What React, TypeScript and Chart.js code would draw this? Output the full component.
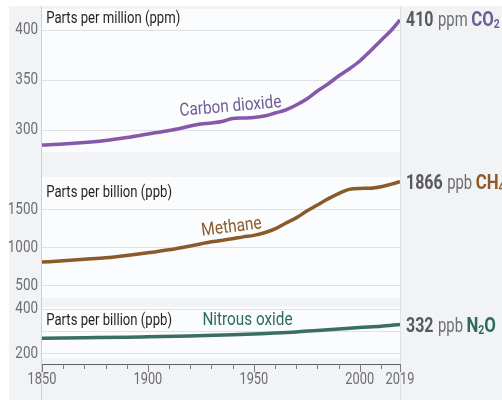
import React, { useEffect, useRef } from 'react';
import { Chart, registerables } from 'chart.js';
Chart.register(...registerables);

// ---------- data ----------
const co2Years = [1850, 1860, 1870, 1880, 1890, 1900, 1910, 1915, 1920, 1925, 1930, 1935, 1940, 1945, 1950, 1955, 1960, 1965, 1970, 1975, 1980, 1985, 1990, 1995, 2000, 2005, 2010, 2015, 2019];
const co2Values = [285, 286, 287.5, 289.5, 292.5, 296, 299.5, 301.5, 304, 306, 307, 308.5, 311.5, 312, 312.5, 314, 317, 320, 325, 331, 339, 346, 354, 361, 369, 379, 389.5, 400, 410];

const ch4Years = [1850, 1860, 1870, 1880, 1890, 1900, 1910, 1920, 1930, 1940, 1945, 1950, 1955, 1960, 1965, 1970, 1975, 1980, 1985, 1990, 1995, 2000, 2005, 2010, 2015, 2019];
const ch4Values = [808, 825, 845, 865, 895, 930, 970, 1020, 1075, 1115, 1140, 1160, 1195, 1245, 1320, 1390, 1480, 1560, 1640, 1710, 1765, 1778, 1780, 1800, 1835, 1866];

const n2oYears = [1850, 1870, 1890, 1900, 1920, 1940, 1950, 1960, 1970, 1980, 1990, 2000, 2010, 2019];
const n2oValues = [270, 272, 274, 276, 280, 285, 289, 293, 298, 305, 311, 318, 324, 332];

const co2Ticks = [300, 350, 400];
const ch4Ticks = [500, 1000, 1500];
const n2oTicks = [200, 300, 400];
const n2oLabeledTicks = [200, 400];
const xTicks = [1850, 1860, 1870, 1880, 1890, 1900, 1910, 1920, 1930, 1940, 1950, 1960, 1970, 1980, 1990, 2000, 2010, 2019];
const xLabels = [1850, 1900, 1950, 2000, 2019];

const co2Range = [278, 421];
const ch4Range = [336, 1928];
const n2oRange = [180, 411];

const co2Title = 'Parts per million (ppm)';
const ch4Title = 'Parts per billion (ppb)';
const n2oTitle = 'Parts per billion (ppb)';

// ---------- style ----------
const FONT = 'Roboto, "Liberation Sans", sans-serif';
const BG = '#f2f3f5';
const PANEL = '#fbfcfd';
const GRID = '#e0e1e3';
const TICK_LABEL = '#6d6e71';
const TITLE = '#231f20';
const NUM = '#58595b';
const CO2_LINE = '#8658aa';
const CO2_TEXT = '#6e5c94';
const CH4_LINE = '#8b5a2b';
const CH4_TEXT = '#8b5a2b';
const N2O_LINE = '#3b6e62';
const N2O_TEXT = '#2c6a5e';

// draw horizontally condensed text (via maxWidth squeeze), return advanced width
function condensed(ctx: CanvasRenderingContext2D, text: string, x: number, y: number, sx: number) {
  const w = ctx.measureText(text).width * sx;
  ctx.fillText(text, x, y, w);
  return w;
}

const labelSets: Record<string, number[]> = {
  yco2: co2Ticks,
  ych4: ch4Ticks,
  yn2o: n2oLabeledTicks,
};

const decor = {
  id: 'decor',
  beforeDraw(chart: any) {
    const { ctx, chartArea, width, height, scales } = chart;
    ctx.save();
    ctx.fillStyle = '#ffffff';
    ctx.fillRect(0, 0, width, height);
    ctx.fillStyle = BG;
    ctx.fillRect(9, 6, width - 9, height - 6);
    ctx.fillStyle = PANEL;
    for (const id of ['yco2', 'ych4', 'yn2o']) {
      const s = scales[id];
      ctx.fillRect(chartArea.left, s.top, chartArea.right - chartArea.left, s.bottom - s.top);
    }
    ctx.restore();
  },
  beforeDatasetsDraw(chart: any) {
    const { ctx, chartArea, height } = chart;
    ctx.save();
    ctx.lineWidth = 1;
    ctx.strokeStyle = '#cfd0d2';
    ctx.beginPath();
    ctx.moveTo(chartArea.left - 0.5, 6);
    ctx.lineTo(chartArea.left - 0.5, height);
    ctx.stroke();
    ctx.strokeStyle = '#dfe0e2';
    ctx.beginPath();
    ctx.moveTo(chartArea.right + 0.5, 6);
    ctx.lineTo(chartArea.right + 0.5, height);
    ctx.stroke();
    ctx.restore();
  },
  afterDraw(chart: any) {
    const { ctx, scales } = chart;
    const x = scales.x;
    ctx.save();
    // x tick marks
    ctx.strokeStyle = '#7a7a7a';
    ctx.lineWidth = 1;
    for (const t of x.ticks) {
      const px = Math.round(x.getPixelForValue(t.value)) + 0.5;
      const len = xLabels.includes(t.value) ? 8 : 5;
      ctx.beginPath();
      ctx.moveTo(px, x.top);
      ctx.lineTo(px, x.top + len);
      ctx.stroke();
    }
    // x tick labels
    ctx.font = `16px ${FONT}`;
    ctx.fillStyle = TICK_LABEL;
    ctx.textBaseline = 'middle';
    ctx.textAlign = 'center';
    for (const t of x.ticks) {
      if (!xLabels.includes(t.value)) continue;
      condensed(ctx, String(t.value), x.getPixelForValue(t.value), x.top + 16, 0.8);
    }
    // y tick labels
    ctx.textAlign = 'right';
    for (const id of Object.keys(labelSets)) {
      const s = scales[id];
      for (const t of s.ticks) {
        if (!labelSets[id].includes(t.value)) continue;
        condensed(ctx, String(t.value), s.right - 4, s.getPixelForValue(t.value), 0.84);
      }
    }

    // panel titles
    ctx.font = `16px ${FONT}`;
    ctx.fillStyle = TITLE;
    ctx.textAlign = 'left';
    ctx.textBaseline = 'middle';
    const tx = x.getPixelForValue(1852);
    condensed(ctx, co2Title, tx, scales.yco2.getPixelForValue(411.5), 0.82);
    condensed(ctx, ch4Title, tx, scales.ych4.getPixelForValue(1717), 0.82);
    condensed(ctx, n2oTitle, tx, scales.yn2o.getPixelForValue(349), 0.82);

    // inline series names
    const inline = (text: string, color: string, year: number, py: number, angle: number, sx: number) => {
      ctx.save();
      ctx.translate(x.getPixelForValue(year), py);
      ctx.rotate((angle * Math.PI) / 180);
      ctx.font = `18px ${FONT}`;
      ctx.fillStyle = color;
      ctx.textAlign = 'center';
      ctx.textBaseline = 'middle';
      condensed(ctx, text, 0, 0, sx);
      ctx.restore();
    };
    inline('Carbon dioxide', CO2_TEXT, 1939, scales.yco2.getPixelForValue(323), -5, 0.85);
    inline('Methane', CH4_TEXT, 1939.5, scales.ych4.getPixelForValue(1263), -7, 0.86);
    inline('Nitrous oxide', N2O_TEXT, 1947, scales.yn2o.getPixelForValue(349), 0, 0.85);

    // end labels
    const endLabel = (num: string, unit: string, f1: string, sub: string, f2: string, color: string, py: number) => {
      let cx = x.right + 6;
      const base = py + 7;
      ctx.textAlign = 'left';
      ctx.textBaseline = 'alphabetic';
      ctx.font = `bold 20px ${FONT}`;
      ctx.fillStyle = NUM;
      cx += condensed(ctx, num, cx, base, 0.8);
      cx += 4.5;
      ctx.font = `20px ${FONT}`;
      ctx.fillStyle = TICK_LABEL;
      cx += condensed(ctx, unit, cx, base, 0.74);
      cx += 3.5;
      ctx.font = `bold 20px ${FONT}`;
      ctx.fillStyle = color;
      cx += condensed(ctx, f1, cx, base, 0.84);
      ctx.font = `bold 13px ${FONT}`;
      cx += condensed(ctx, sub, cx, base + 2, 0.8);
      if (f2) {
        ctx.font = `bold 20px ${FONT}`;
        condensed(ctx, f2, cx, base, 0.84);
      }
    };
    endLabel(String(co2Values[co2Values.length - 1]), 'ppm', 'CO', '2', '', CO2_TEXT,
      scales.yco2.getPixelForValue(co2Values[co2Values.length - 1]) - 1);
    endLabel(String(ch4Values[ch4Values.length - 1]), 'ppb', 'CH', '4', '', CH4_TEXT,
      scales.ych4.getPixelForValue(ch4Values[ch4Values.length - 1]));
    endLabel(String(n2oValues[n2oValues.length - 1]), 'ppb', 'N', '2', 'O', N2O_TEXT,
      scales.yn2o.getPixelForValue(n2oValues[n2oValues.length - 1]) + 1);
    ctx.restore();
  },
};

const yBase = (ticks: number[], range: number[], stackWeight: number, weight: number) => ({
  type: 'linear' as const,
  position: 'left' as const,
  stack: 'gases',
  stackWeight,
  weight,
  min: range[0],
  max: range[1],
  grid: { color: GRID, lineWidth: 1, drawTicks: false },
  border: { display: false },
  ticks: { display: false, autoSkip: false },
  afterBuildTicks: (s: any) => {
    s.ticks = ticks.map((value) => ({ value }));
  },
  afterFit: (s: any) => {
    s.width = 42;
  },
});

const gap = (stackWeight: number, weight: number) => ({
  type: 'linear' as const,
  position: 'left' as const,
  stack: 'gases',
  stackWeight,
  weight,
  display: false,
  min: 0,
  max: 1,
});

export default function App() {
  const ref = useRef<HTMLCanvasElement>(null);
  useEffect(() => {
    const canvas = ref.current!;
    const chart = new Chart(canvas, {
      type: 'line',
      data: {
        datasets: [
          {
            label: 'Carbon dioxide',
            data: co2Years.map((yr, i) => ({ x: yr, y: co2Values[i] })),
            yAxisID: 'yco2',
            borderColor: CO2_LINE,
            borderWidth: 3.5,
            pointRadius: 0,
            cubicInterpolationMode: 'monotone',
          },
          {
            label: 'Methane',
            data: ch4Years.map((yr, i) => ({ x: yr, y: ch4Values[i] })),
            yAxisID: 'ych4',
            borderColor: CH4_LINE,
            borderWidth: 3.5,
            pointRadius: 0,
            cubicInterpolationMode: 'monotone',
          },
          {
            label: 'Nitrous oxide',
            data: n2oYears.map((yr, i) => ({ x: yr, y: n2oValues[i] })),
            yAxisID: 'yn2o',
            borderColor: N2O_LINE,
            borderWidth: 3.5,
            pointRadius: 0,
            cubicInterpolationMode: 'monotone',
          },
        ],
      },
      options: {
        animation: false,
        responsive: false,
        layout: { padding: { left: 0, right: 102, top: 9, bottom: 0 } },
        plugins: { legend: { display: false }, tooltip: { enabled: false } },
        scales: {
          x: {
            type: 'linear',
            position: 'bottom',
            min: 1850,
            max: 2019,
            grid: { display: false, drawTicks: false },
            border: { display: true, color: '#5f6062', width: 1 },
            ticks: { display: false, autoSkip: false },
            afterBuildTicks: (s: any) => {
              s.ticks = xTicks.map((value) => ({ value }));
            },
            afterFit: (s: any) => {
              s.height = 36;
            },
          },
          yco2: yBase(co2Ticks, co2Range, 143, 6),
          gap1: gap(25, 5),
          ych4: yBase(ch4Ticks, ch4Range, 121, 4),
          gap2: gap(9, 3),
          yn2o: yBase(n2oTicks, n2oRange, 51, 2),
          gap3: gap(6, 1),
        } as any,
      },
      plugins: [decor],
    });
    return () => chart.destroy();
  }, []);
  return (
    <div style={{ position: 'fixed', left: 0, top: 0, width: 502, height: 400 }}>
      <canvas ref={ref} width={502} height={400} style={{ display: 'block', width: 502, height: 400 }} />
    </div>
  );
}
